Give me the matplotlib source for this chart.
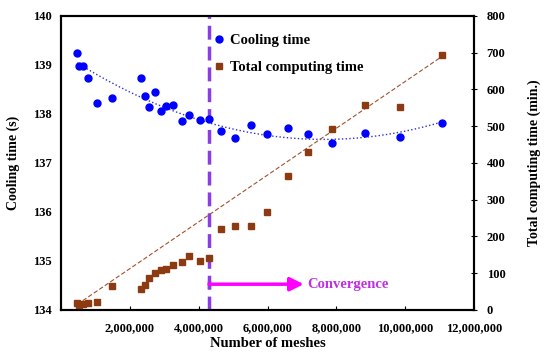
import matplotlib
matplotlib.use("Agg")
import matplotlib.pyplot as plt
import numpy as np
from matplotlib.ticker import FuncFormatter

plt.rcParams['font.family'] = ['Liberation Serif', 'DejaVu Serif']
plt.rcParams['font.weight'] = 'bold'

# number of meshes (both series share the same cases)
meshes = [0.47e6, 0.52e6, 0.65e6, 0.79e6, 1.03e6, 1.48e6, 2.32e6, 2.43e6, 2.55e6,
          2.72e6, 2.90e6, 3.04e6, 3.26e6, 3.50e6, 3.72e6, 4.03e6, 4.30e6, 4.65e6,
          5.05e6, 5.51e6, 5.97e6, 6.59e6, 7.17e6, 7.88e6, 8.83e6, 9.85e6, 11.07e6]

cooling_time = [139.24, 138.98, 138.98, 138.74, 138.22, 138.33, 138.74, 138.37, 138.15,
                138.44, 138.06, 138.16, 138.18, 137.86, 137.97, 137.88, 137.89, 137.65,
                137.51, 137.78, 137.59, 137.71, 137.59, 137.41, 137.62, 137.52, 137.81]

computing_time = [20, 14, 15, 18, 22, 66, 57, 68, 87,
                  100, 109, 112, 123, 130, 147, 134, 140, 220,
                  229, 229, 267, 365, 431, 492, 557, 552, 694]

# trend lines
cool_trend_x = [0.47e6, 2.0e6, 5.8e6, 11.07e6]
cool_trend_y = [139.15, 138.27, 137.67, 137.82]
comp_trend_x = [0.47e6, 11.07e6]
comp_trend_y = [15, 690]

converge_x = 4.3e6

fig = plt.figure(figsize=(5.5, 3.55), dpi=100)
ax1 = fig.add_axes([0.111, 0.127, 0.751, 0.828])
ax2 = ax1.twinx()

# quadratic trend for cooling time
c = np.polyfit(cool_trend_x, cool_trend_y, 2)
xx = np.linspace(cool_trend_x[0], cool_trend_x[-1], 200)
ax1.plot(xx, np.polyval(c, xx), linestyle=':', color='#3030d0', linewidth=1.0)
h1, = ax1.plot(meshes, cooling_time, 'o', color='#0000ff', markersize=5,
               label='Cooling time', zorder=5)

ax2.plot(comp_trend_x, comp_trend_y, linestyle=(0, (4, 2)), color='#a0522d', linewidth=0.8)
h2, = ax2.plot(meshes, computing_time, 's', color='#8b3a12', markersize=4,
               label='Total computing time', zorder=5)

# convergence marker
ax1.axvline(converge_x, color='#8a3ce6', linewidth=2.5, linestyle=(0, (4, 2)), zorder=4)
ax2.annotate('', xy=(7.05e6, 70), xytext=(converge_x, 70),
             arrowprops=dict(arrowstyle='-|>,head_length=0.8,head_width=0.4',
                             color='#ff00ff', lw=2.5, shrinkA=0, shrinkB=0))
ax2.plot([converge_x, converge_x], [63, 77], color='#8a3ce6', linewidth=2.5)
ax2.text(7.15e6, 70, 'Convergence', color='#c030e0', fontsize=10.5, fontweight='bold',
         va='center', ha='left')

ax1.set_xlim(0, 12e6)
ax1.set_ylim(134, 140)
ax2.set_ylim(0, 800)
ax1.set_xticks(np.arange(0, 12.1e6, 2e6))
ax1.xaxis.set_major_formatter(FuncFormatter(lambda v, p: '' if v == 0 else f'{int(v):,}'))
ax1.set_yticks(np.arange(134, 140.1, 1))
ax2.set_yticks(np.arange(0, 801, 100))

ax1.tick_params(axis='x', direction='in', length=3, labelsize=9, pad=9)
ax1.tick_params(axis='y', length=0, labelsize=9, pad=7)
ax2.tick_params(axis='y', direction='inout', length=4, labelsize=9, pad=7)

for ax in (ax1, ax2):
    for s in ax.spines.values():
        s.set_linewidth(1.5)

ax1.set_xlabel('Number of meshes', fontsize=10.5, fontweight='bold', labelpad=2)
ax1.set_ylabel('Cooling time (s)', fontsize=10, fontweight='bold', labelpad=9)
ax2.set_ylabel('Total computing time (min.)', fontsize=10, fontweight='bold', labelpad=16)

leg = ax1.legend(handles=[h1, h2], loc='upper left', bbox_to_anchor=(0.347, 0.975),
                 frameon=False, fontsize=10.5, handlelength=0.6, handletextpad=0.45,
                 labelspacing=0.95, borderaxespad=0.3)
for t in leg.get_texts():
    t.set_fontweight('bold')

fig.savefig('out.png', dpi=100)
